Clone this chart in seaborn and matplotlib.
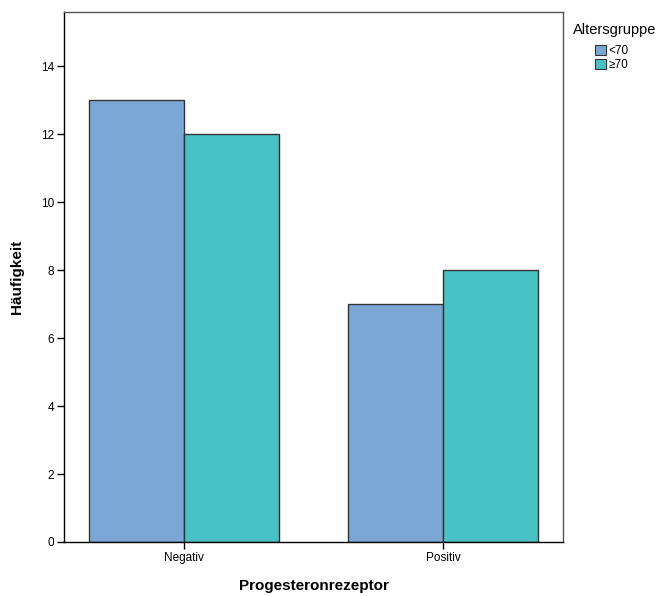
import numpy as np
import pandas as pd
import seaborn as sns
import matplotlib.pyplot as plt

# data
categories = ['Negativ', 'Positiv']
groups = ['<70', '≥70']
counts_under70 = [13, 7]
counts_over70 = [12, 8]
colors = ['#7aa7d6', '#48c2c5']

df = pd.DataFrame({
    'Progesteronrezeptor': categories * 2,
    'Altersgruppe': [groups[0]] * 2 + [groups[1]] * 2,
    'Häufigkeit': counts_under70 + counts_over70,
})

sns.set_style('white')
plt.rcParams['font.family'] = ['Liberation Sans', 'DejaVu Sans']
plt.rcParams['text.color'] = 'black'
plt.rcParams['axes.labelcolor'] = 'black'
plt.rcParams['xtick.color'] = 'black'
plt.rcParams['ytick.color'] = 'black'

fig = plt.figure(figsize=(6.63, 5.96), dpi=100)
ax = fig.add_axes([64 / 663, 54 / 596, 499 / 663, 530 / 596])

sns.barplot(ax=ax, data=df, x='Progesteronrezeptor', y='Häufigkeit',
            hue='Altersgruppe', palette=colors, width=0.734,
            edgecolor='#333333', linewidth=1, saturation=1, legend=True)

ax.set_xlim(-0.463, 1.463)
ax.set_ylim(0, 15.6)
ax.set_yticks(np.arange(0, 15, 2))
ax.tick_params(axis='both', direction='out', length=5, width=1,
               labelsize=8.5, pad=2, bottom=True, left=True)
for s in ax.spines.values():
    s.set_visible(True)
    s.set_color('black')
    s.set_linewidth(1)
ax.spines['right'].set_color('#555555')
ax.spines['top'].set_color('#555555')
ax.set_xlabel('Progesteronrezeptor', fontsize=11, fontweight='bold', labelpad=11)
ax.set_ylabel('Häufigkeit', fontsize=11, fontweight='bold', labelpad=12)

fig.text(573 / 663, 1 - 30 / 596, 'Altersgruppe', fontsize=10.5, va='center', ha='left')
leg = ax.legend(loc='upper left', bbox_to_anchor=(595 / 663, 1 - 45 / 596),
                bbox_transform=fig.transFigure, frameon=False, fontsize=8.5,
                handlelength=0.9, handleheight=0.9, handletextpad=0.25,
                borderaxespad=0, borderpad=0, labelspacing=0.2)
for h in leg.legend_handles:
    h.set_edgecolor('#333333')
    h.set_linewidth(0.8)

fig.savefig('out.png', dpi=100)
